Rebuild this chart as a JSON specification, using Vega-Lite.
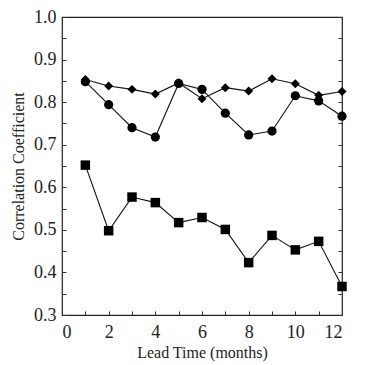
{
  "$schema": "https://vega.github.io/schema/vega-lite/v6.json",
  "width": 280,
  "height": 298,
  "autosize": "none",
  "padding": {"left": 62, "top": 17, "right": 24, "bottom": 50},
  "background": "white",
  "config": {
    "view": {"stroke": "#222", "strokeWidth": 1.2},
    "font": "Liberation Serif",
    "axis": {
      "labelFont": "Liberation Serif",
      "titleFont": "Liberation Serif",
      "labelColor": "#222",
      "titleColor": "#222",
      "titleFontWeight": "normal",
      "labelFontSize": 18,
      "titleFontSize": 16,
      "domain": false,
      "grid": false,
      "tickColor": "#333",
      "tickSize": -4
    }
  },
  "data": {
    "values": [
      {"lead": 1, "series": "A", "r": 0.853},
      {"lead": 2, "series": "A", "r": 0.838},
      {"lead": 3, "series": "A", "r": 0.830},
      {"lead": 4, "series": "A", "r": 0.819},
      {"lead": 5, "series": "A", "r": 0.845},
      {"lead": 6, "series": "A", "r": 0.808},
      {"lead": 7, "series": "A", "r": 0.834},
      {"lead": 8, "series": "A", "r": 0.826},
      {"lead": 9, "series": "A", "r": 0.855},
      {"lead": 10, "series": "A", "r": 0.843},
      {"lead": 11, "series": "A", "r": 0.816},
      {"lead": 12, "series": "A", "r": 0.825},
      {"lead": 1, "series": "B", "r": 0.848},
      {"lead": 2, "series": "B", "r": 0.794},
      {"lead": 3, "series": "B", "r": 0.740},
      {"lead": 4, "series": "B", "r": 0.718},
      {"lead": 5, "series": "B", "r": 0.844},
      {"lead": 6, "series": "B", "r": 0.830},
      {"lead": 7, "series": "B", "r": 0.774},
      {"lead": 8, "series": "B", "r": 0.723},
      {"lead": 9, "series": "B", "r": 0.732},
      {"lead": 10, "series": "B", "r": 0.815},
      {"lead": 11, "series": "B", "r": 0.803},
      {"lead": 12, "series": "B", "r": 0.767},
      {"lead": 1, "series": "C", "r": 0.652},
      {"lead": 2, "series": "C", "r": 0.498},
      {"lead": 3, "series": "C", "r": 0.577},
      {"lead": 4, "series": "C", "r": 0.564},
      {"lead": 5, "series": "C", "r": 0.517},
      {"lead": 6, "series": "C", "r": 0.529},
      {"lead": 7, "series": "C", "r": 0.501},
      {"lead": 8, "series": "C", "r": 0.423},
      {"lead": 9, "series": "C", "r": 0.487},
      {"lead": 10, "series": "C", "r": 0.453},
      {"lead": 11, "series": "C", "r": 0.473},
      {"lead": 12, "series": "C", "r": 0.367}
    ]
  },
  "encoding": {
    "x": {
      "field": "lead",
      "type": "quantitative",
      "scale": {"domain": [0, 12], "nice": false, "zero": false},
      "axis": {
        "title": "Lead Time (months)",
        "values": [0, 1, 2, 3, 4, 5, 6, 7, 8, 9, 10, 11, 12],
        "labelExpr": "datum.value % 2 === 0 ? datum.label : ''",
        "labelPadding": 12,
        "titlePadding": 3
      }
    },
    "y": {
      "field": "r",
      "type": "quantitative",
      "scale": {"domain": [0.3, 1.0], "nice": false, "zero": false}
    }
  },
  "layer": [
    {
      "mark": {"type": "line", "color": "#111", "strokeWidth": 1.1},
      "encoding": {
        "detail": {"field": "series"},
        "y": {
          "field": "r",
          "type": "quantitative",
          "scale": {"domain": [0.3, 1.0], "nice": false, "zero": false},
          "axis": {
            "title": "Correlation Coefficient",
            "values": [0.3, 0.35, 0.4, 0.45, 0.5, 0.55, 0.6, 0.65, 0.7, 0.75, 0.8, 0.85, 0.9, 0.95, 1.0],
            "labelExpr": "abs(datum.value*10 - round(datum.value*10)) < 0.01 ? format(datum.value, '.1f') : ''",
            "labelPadding": 10,
            "titlePadding": 7
          }
        }
      }
    },
    {
      "mark": {"type": "point", "filled": true, "color": "#000", "opacity": 1},
      "encoding": {
        "shape": {
          "field": "series",
          "type": "nominal",
          "scale": {"domain": ["A", "B", "C"], "range": ["diamond", "circle", "square"]},
          "legend": null
        },
        "size": {
          "field": "series",
          "type": "nominal",
          "scale": {"domain": ["A", "B", "C"], "range": [80, 90, 60]},
          "legend": null
        },
        "y": {
          "field": "r",
          "type": "quantitative",
          "scale": {"domain": [0.3, 1.0], "nice": false, "zero": false},
          "axis": {
            "orient": "right",
            "title": null,
            "labels": false,
            "values": [0.3, 0.35, 0.4, 0.45, 0.5, 0.55, 0.6, 0.65, 0.7, 0.75, 0.8, 0.85, 0.9, 0.95, 1.0]
          }
        }
      }
    }
  ],
  "resolve": {"axis": {"y": "independent"}}
}
